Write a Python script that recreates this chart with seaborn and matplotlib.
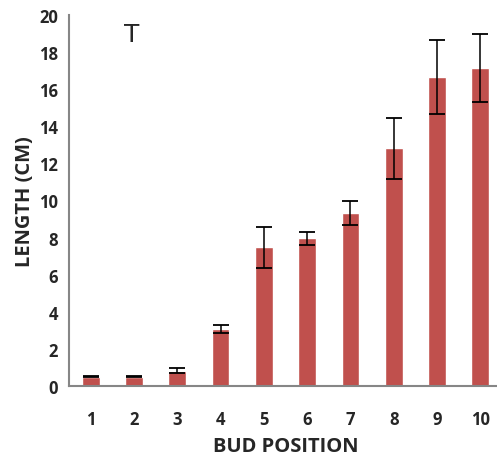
import matplotlib
matplotlib.use("Agg")
import matplotlib.pyplot as plt
import seaborn as sns
import pandas as pd
import numpy as np

positions = ["1", "2", "3", "4", "5", "6", "7", "8", "9", "10"]
lengths = [0.5, 0.5, 0.83, 3.07, 7.48, 7.96, 9.33, 12.81, 16.66, 17.16]
errors = [0.03, 0.03, 0.13, 0.2, 1.1, 0.35, 0.67, 1.63, 1.98, 1.83]
y_ticks = [0, 2, 4, 6, 8, 10, 12, 14, 16, 18, 20]

sns.set_style("white")
plt.rcParams['font.family'] = ['Open Sans', 'DejaVu Sans']

df = pd.DataFrame({"pos": positions, "len": lengths, "err": errors})

fig = plt.figure(figsize=(4.97, 4.60), dpi=100)
ax = fig.add_axes([69/497, 73/460, 433/497, 371/460])

sns.barplot(data=df, x="pos", y="len", color="#C0504D", width=0.41,
            saturation=1, errorbar=None, ax=ax, order=positions)
ax.errorbar(np.arange(len(positions)), lengths, yerr=errors, fmt="none",
            ecolor="black", elinewidth=1.1, capsize=5.5, capthick=1.3)

ax.set_xlim(-0.5, 9.5)
ax.set_ylim(0, 20)
ax.set_yticks(y_ticks)
ax.set_yticklabels([str(v) for v in y_ticks], fontsize=12, fontweight="bold")
ax.set_xticks(np.arange(len(positions)))
ax.set_xticklabels(positions, fontsize=12, fontweight="bold")
ax.tick_params(axis="x", which="major", length=0, pad=17)
ax.set_xticks(np.arange(len(positions) + 1) - 0.5, minor=True)
ax.tick_params(axis="x", which="minor", length=5, width=1.2, color="#868686", direction="out")
ax.tick_params(axis="y", which="major", length=5, width=1.2, color="#868686", direction="out", pad=3)

for s in ["top", "right"]:
    ax.spines[s].set_visible(False)
for s in ["left", "bottom"]:
    ax.spines[s].set_color("#868686")
    ax.spines[s].set_linewidth(1.5)

ax.set_xlabel("BUD POSITION", fontsize=14.5, fontweight="bold", labelpad=6)
ax.set_ylabel("LENGTH (CM)", fontsize=14.5, fontweight="bold", labelpad=3)

ax.text(132/497, 1 - 35/460, "T", transform=fig.transFigure, fontsize=18,
        ha="center", va="center", family="DejaVu Sans")

fig.savefig("out.png", dpi=100)
